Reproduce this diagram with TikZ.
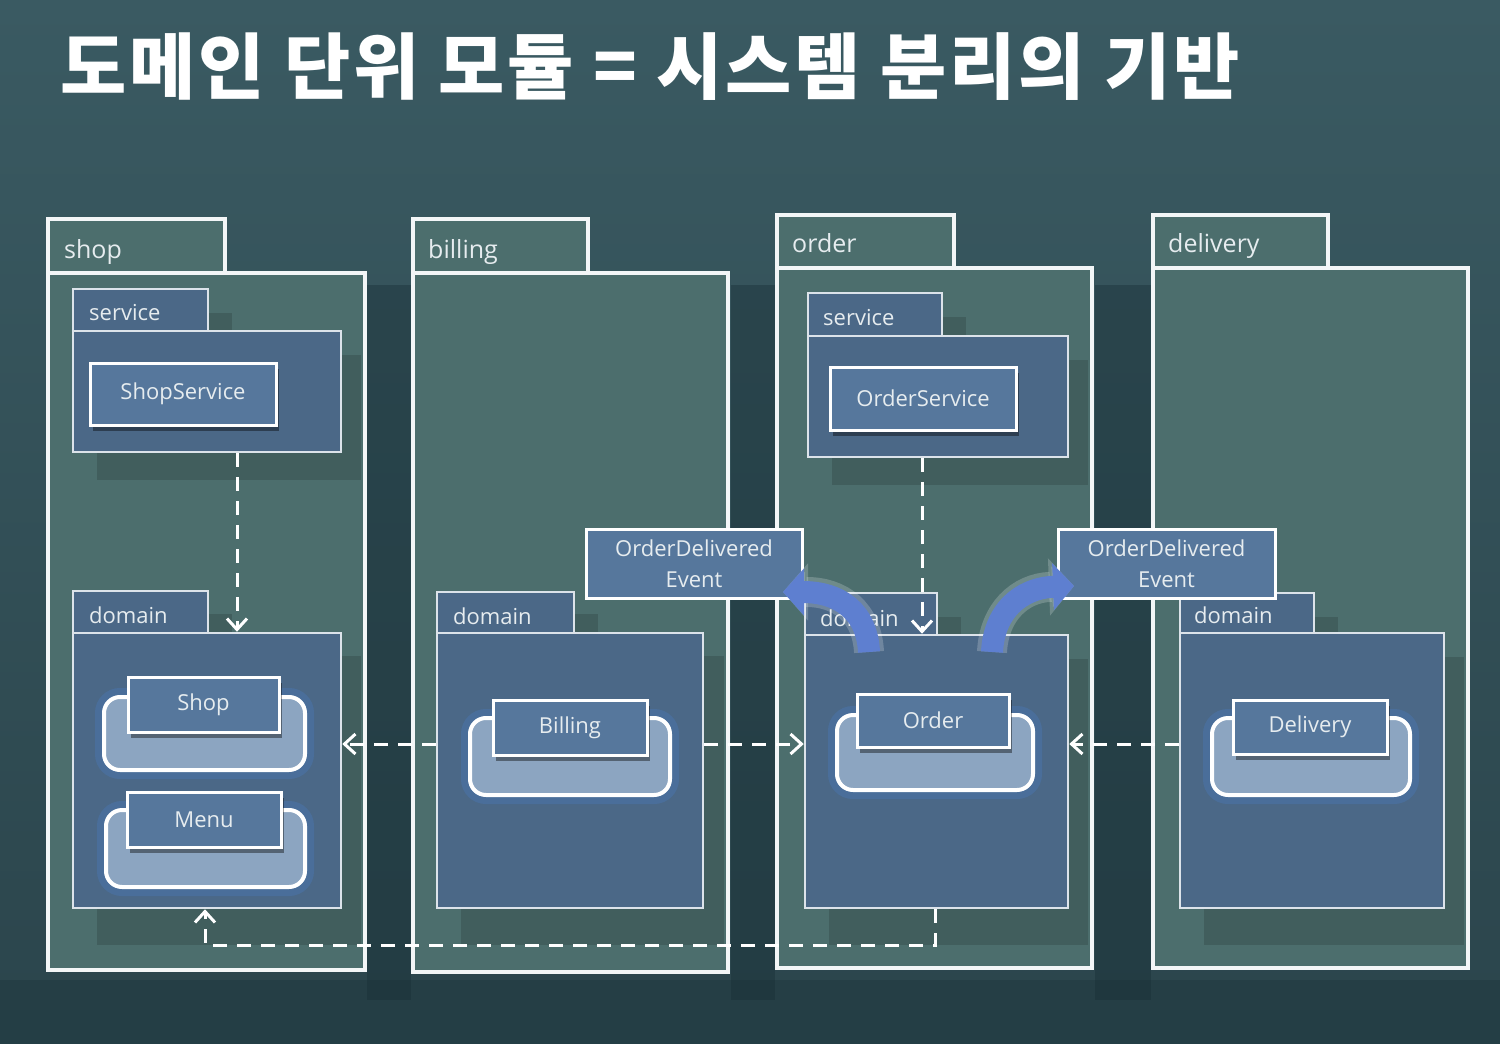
\documentclass[tikz,border=0pt]{standalone}
\usepackage{fontspec}
\setmainfont{Open Sans}
\newfontfamily\krfont{Noto Sans CJK KR}
\usetikzlibrary{arrows.meta,fit,shadows}
\definecolor{bgtop}{HTML}{3A5A62}
\definecolor{bgbot}{HTML}{2B454C}
\definecolor{bgdark}{HTML}{172E35}
\definecolor{pkgfill}{HTML}{4C6E6D}
\definecolor{pkgline}{HTML}{F3F6F7}
\definecolor{subfill}{HTML}{4B6887}
\definecolor{subline}{HTML}{DCE3EA}
\definecolor{clsfill}{HTML}{56779C}
\definecolor{entfill}{HTML}{8CA5C1}
\definecolor{glow}{HTML}{4A78B8}
\definecolor{txt}{HTML}{E6ECEF}
\definecolor{arrowblue}{HTML}{5E7FD0}
\begin{document}
\begin{tikzpicture}[x=1pt,y=-1pt,
  pkg/.style={draw=pkgline, line width=3.5pt, fill=pkgfill, inner sep=0pt},
  sub/.style={draw=subline, line width=2.5pt, fill=subfill, inner sep=0pt},
  subshadow/.style={fill=black, opacity=0.14},
  cls/.style={draw=white, line width=3pt, fill=clsfill, text=txt, font=\fontsize{22}{26}\selectfont, inner sep=0pt,
    drop shadow={shadow xshift=3pt, shadow yshift=-6pt, opacity=0.4, fill=black}},
  ent/.style={draw=white, line width=4pt, fill=entfill, rounded corners=16pt, inner sep=0pt,
    preaction={draw=glow, line width=18pt, opacity=0.4}},
  pkglabel/.style={anchor=base west, text=txt, font=\fontsize{25}{30}\selectfont, inner sep=0pt},
  sublabel/.style={anchor=base west, text=txt, font=\fontsize{22}{26}\selectfont, inner sep=0pt},
  dep/.style={draw=white, line width=3pt, dash pattern=on 14pt off 10pt, -{Straight Barb[length=11pt,width=20pt]}},
  evbox/.style={draw=white, line width=3pt, fill=clsfill, text=txt, align=center, font=\fontsize{22}{31}\selectfont, inner sep=0pt},
  evarrow/.style={line width=22pt, draw=arrowblue, -{Triangle[length=21pt,width=46pt]},
    preaction={draw=white, opacity=0.2, line width=30pt, -{Triangle[length=25pt,width=56pt]}}}
]
\useasboundingbox (0,0) rectangle (1500,1044);
% background
\shade[top color=bgtop, bottom color=bgbot] (0,0) rectangle (1500,1044);
\fill[bgdark, opacity=0.4] (367,285) rectangle (411,1000);
\fill[bgdark, opacity=0.4] (731,285) rectangle (775,1000);
\fill[bgdark, opacity=0.4] (1095,285) rectangle (1151,1000);
\fill[bgdark, opacity=0.3] (0,980) rectangle (1500,1044);

% title
\node[anchor=base west, text=white, inner sep=0pt, font=\krfont\bfseries\fontsize{72}{72}\selectfont\addfontfeature{LetterSpace=4}] (title) at (60,93) {도메인 단위 모듈 = 시스템 분리의 기반};

% packages
\node[pkg, fit={(48,219) (225,273)}] (shoptab) {};
\node[pkg, fit={(48,273) (365,970)}] (shopbody) {};
\node[pkg, fit={(413,219) (588,273)}] (billtab) {};
\node[pkg, fit={(413,273) (728,972)}] (billbody) {};
\node[pkg, fit={(777,215) (954,268)}] (ordertab) {};
\node[pkg, fit={(777,268) (1092,968)}] (orderbody) {};
\node[pkg, fit={(1153,215) (1328,268)}] (deltab) {};
\node[pkg, fit={(1153,268) (1468,968)}] (delbody) {};

% sub-package shadows
\fill[subshadow] (97,313) rectangle (232,355);
\fill[subshadow] (97,355) rectangle (361,480);
\fill[subshadow] (97,614) rectangle (232,656);
\fill[subshadow] (97,656) rectangle (361,945);
\fill[subshadow] (461,614) rectangle (598,656);
\fill[subshadow] (461,656) rectangle (724,945);
\fill[subshadow] (832,317) rectangle (966,360);
\fill[subshadow] (832,360) rectangle (1088,485);
\fill[subshadow] (829,617) rectangle (961,659);
\fill[subshadow] (829,659) rectangle (1088,945);
\fill[subshadow] (1204,617) rectangle (1338,657);
\fill[subshadow] (1204,657) rectangle (1464,945);

% sub-packages
\node[sub, fit={(73,289) (208,331)}] (shopsvctab) {};
\node[sub, fit={(73,331) (341,452)}] (shopsvcbody) {};
\node[sub, fit={(73,591) (208,633)}] (shopdomtab) {};
\node[sub, fit={(73,633) (341,908)}] (shopdombody) {};
\node[sub, fit={(437,592) (574,633)}] (billdomtab) {};
\node[sub, fit={(437,633) (703,908)}] (billdombody) {};
\node[sub, fit={(808,293) (942,336)}] (ordersvctab) {};
\node[sub, fit={(808,336) (1068,457)}] (ordersvcbody) {};
\node[sub, fit={(805,593) (937,635)}] (orderdomtab) {};
\node[sub, fit={(805,635) (1068,908)}] (orderdombody) {};
\node[sub, fit={(1180,593) (1314,633)}] (deldomtab) {};
\node[sub, fit={(1180,633) (1444,908)}] (deldombody) {};

% labels
\node[pkglabel] (lshop) at (64,258) {shop};
\node[pkglabel] (lbill) at (428,258) {billing};
\node[pkglabel] (lorder) at (792,252) {order};
\node[pkglabel] (ldel) at (1168,252) {delivery};
\node[sublabel] (lshopsvc) at (89,320) {service};
\node[sublabel] (lshopdom) at (89,623) {domain};
\node[sublabel] (lbilldom) at (453,624) {domain};
\node[sublabel] (lordersvc) at (823,325) {service};
\node[sublabel] (lorderdom) at (820,626) {domain};
\node[sublabel] (ldeldom) at (1194,623) {domain};

% entities
\node[ent, fit={(104,697) (305,770)}] (shopent) {};
\node[ent, fit={(106,810) (305,887)}] (menuent) {};
\node[ent, fit={(470,718) (670,795)}] (billent) {};
\node[ent, fit={(837,715) (1033,790)}] (orderent) {};
\node[ent, fit={(1212,718) (1410,795)}] (delent) {};

% class boxes
\node[cls, minimum width=186pt, minimum height=62pt] (shopsvc) at (183,394) {ShopService};
\node[cls, minimum width=151pt, minimum height=55pt] (shop) at (203.5,704.5) {Shop};
\node[cls, minimum width=154pt, minimum height=55pt] (menu) at (204,819.5) {Menu};
\node[cls, minimum width=154pt, minimum height=55pt] (billing) at (570,727.5) {Billing};
\node[cls, minimum width=186pt, minimum height=63pt] (ordersvc) at (923,398.5) {OrderService};
\node[cls, minimum width=152pt, minimum height=53pt] (order) at (933,720.5) {Order};
\node[cls, minimum width=154pt, minimum height=54pt] (delivery) at (1310,727) {Delivery};

% dependencies
\draw[dep] (shopsvcbody.south -| 237,0) -- (shopdombody.north -| 237,0);
\draw[dep] (ordersvcbody.south -| 922,0) -- (orderdombody.north -| 922,0);
\draw[dep] (billdombody.west |- 0,744) -- (shopdombody.east |- 0,744);
\draw[dep] (billdombody.east |- 0,744) -- (orderdombody.west |- 0,744);
\draw[dep] (deldombody.west |- 0,744) -- (orderdombody.east |- 0,744);
\draw[dep] (orderdombody.south -| 935,0) -- (935,945) -- (205,945) -- (shopdombody.south -| 205,0);

% events
\node[evbox, minimum width=216pt, minimum height=69pt] (ev1) at (694,563.5) {OrderDelivered\\Event};
\node[evbox, minimum width=217pt, minimum height=69pt] (ev2) at (1166.5,563.5) {OrderDelivered\\Event};

% publish arrows
\coordinate (t1) at (869,652);
\coordinate (h1) at (783,592);
\coordinate (t2) at (992,652);
\coordinate (h2) at (1074,586);
\draw[evarrow] (t1) .. controls (867,612) and (840,592) .. (h1);
\draw[evarrow] (t2) .. controls (994,612) and (1020,588) .. (h2);
\end{tikzpicture}
\end{document}
